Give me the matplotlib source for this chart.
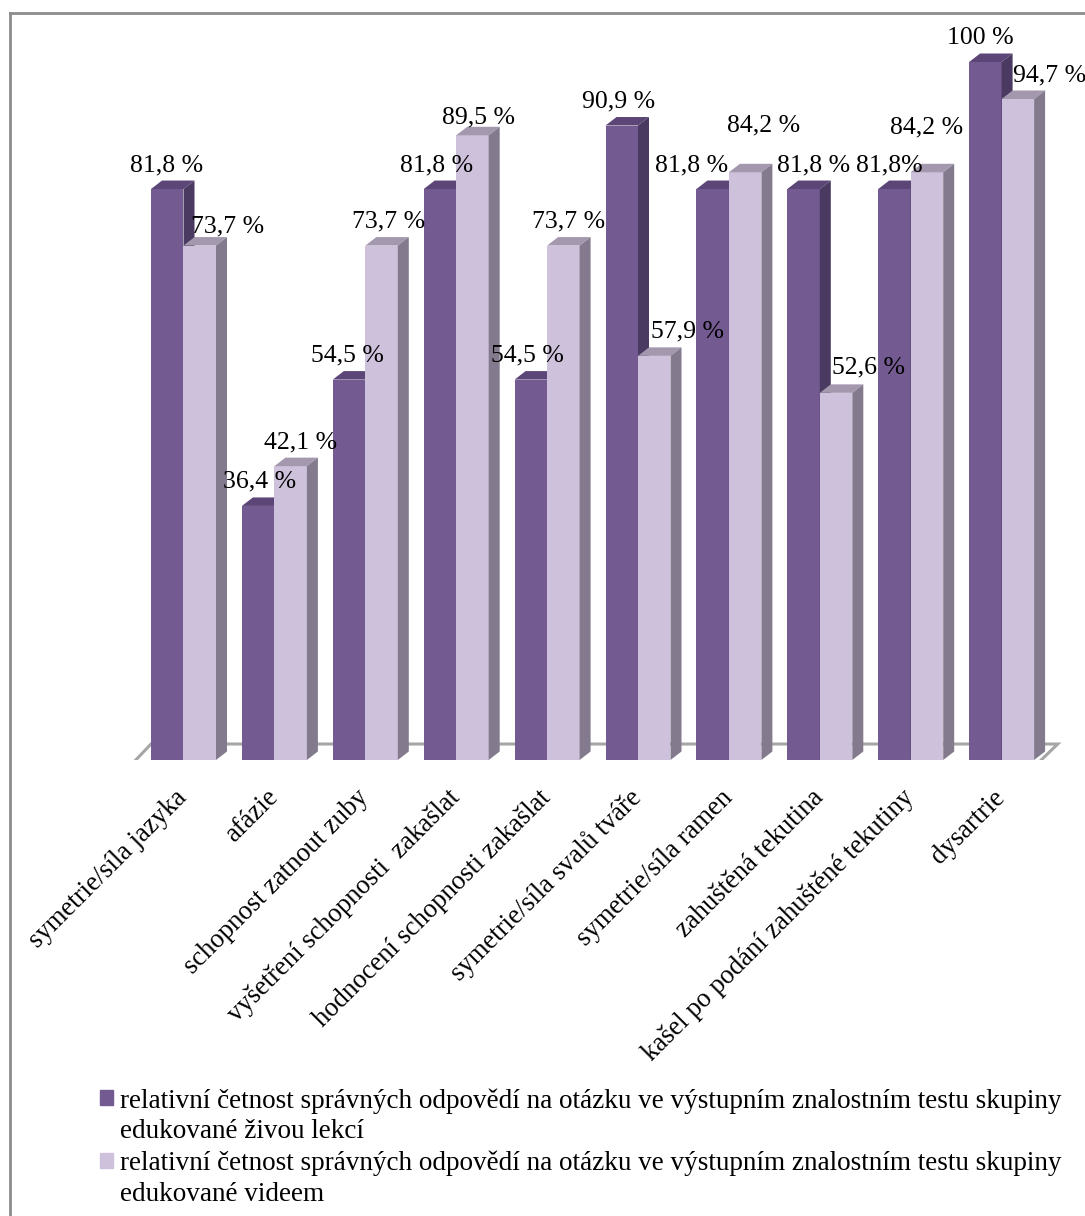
import numpy as np
import matplotlib
matplotlib.use('Agg')
import matplotlib.pyplot as plt
from matplotlib.patches import Polygon, Patch
from matplotlib.lines import Line2D

plt.rcParams['font.family'] = ['Liberation Serif', 'DejaVu Serif']

categories = ['symetrie/síla jazyka', 'afázie', 'schopnost zatnout zuby',
              'vyšetření schopnosti  zakašlat', 'hodnocení schopnosti zakašlat',
              'symetrie/síla svalů tváře', 'symetrie/síla ramen', 'zahuštěná tekutina',
              'kašel po podání zahuštěné tekutiny', 'dysartrie']
live = [81.8, 36.4, 54.5, 81.8, 54.5, 90.9, 81.8, 81.8, 81.8, 100]
video = [73.7, 42.1, 73.7, 89.5, 73.7, 57.9, 84.2, 52.6, 84.2, 94.7]
legend_first = 'relativní četnost správných odpovědí na otázku ve výstupním znalostním testu skupiny'
legend_second = ['edukované živou lekcí', 'edukované videem']

# label nudges in pixels (Excel moved some labels around)
live_nudge = [(-1, 0), (1, 0), (-2, 0), (-3, 0), (-3, 0), (-3, 0), (-21, 0), (10, 0), (-5, 0), (-5, 0)]
video_nudge = [(28, -5), (10, 0), (7, 0), (6, -6), (5, 0), (33, 0), (18, 23), (32, 1), (0, 21), (32, 0)]
live_nospace = [8]

dark = ('#735a91', '#5b4677', '#4a3960')
light = ('#cec1dc', '#a498ae', '#837b8d')

W, H = 1085, 1216
fig = plt.figure(figsize=(W / 100, H / 100), dpi=100)
ax = fig.add_axes([0, (H - 760) / H, 1, 760 / H])
pxx = 90.9   # px per category
pxy = 6.98   # px per percent
ax.set_xlim(-183.5 / pxx, (W - 183.5) / pxx)
ax.set_ylim(0, 760 / pxy)

w = 32.5 / pxx
dx, dy = 11 / pxx, 8.5 / pxy
x = np.arange(len(categories))

# floor
fl, fr = -w - 0.23, len(categories) - 1 + w + 0.01
ff, fb = -0.86, 2.29
floor = Polygon([(fl, ff), (fr, ff), (fr + 0.25, fb), (fl + 0.23, fb)], closed=True,
                facecolor='white', edgecolor='#a6a6a6', lw=2.2, zorder=1)
ax.add_patch(floor)


def bars3d(x0, vals, cols, z):
    front, top, side = cols
    ax.bar(x0, vals, w, align='edge', color=front, edgecolor='none', zorder=z)
    for xi, h in zip(x0, vals):
        ax.add_patch(Polygon([(xi, h), (xi + w, h), (xi + w + dx, h + dy), (xi + dx, h + dy)],
                             closed=True, facecolor=top, edgecolor='none', zorder=z))
        ax.add_patch(Polygon([(xi + w, 0), (xi + w + dx, dy), (xi + w + dx, h + dy), (xi + w, h)],
                             closed=True, facecolor=side, edgecolor='none', zorder=z))


bars3d(x - w, live, dark, 2)
bars3d(x, video, light, 3)


def fmt(v, space=True):
    s = ('%d' % v) if v == int(v) else ('%.1f' % v).replace('.', ',')
    return s + (' %' if space else '%')


for i in range(len(categories)):
    ax.annotate(fmt(live[i], i not in live_nospace), xy=(x[i] - w / 2, live[i]),
                xytext=(live_nudge[i][0], 24 + live_nudge[i][1]), textcoords='offset pixels',
                ha='center', va='center', fontsize=18.5, zorder=5)
    ax.annotate(fmt(video[i]), xy=(x[i] + w / 2, video[i]),
                xytext=(video_nudge[i][0], 24 + video_nudge[i][1]), textcoords='offset pixels',
                ha='center', va='center', fontsize=18.5, zorder=5)

ax.set_xticks(x - 0.1)
ax.set_xticklabels(categories, rotation=45, ha='right', rotation_mode='anchor', fontsize=19.2)
ax.tick_params(axis='x', length=0, pad=18)
ax.set_yticks([])
for s in ax.spines.values():
    s.set_visible(False)

handles = [Patch(color=dark[0]), Patch(facecolor='none', edgecolor='none'),
           Patch(color=light[0]), Patch(facecolor='none', edgecolor='none')]
labels = [legend_first, legend_second[0], legend_first, legend_second[1]]
fig.legend(handles, labels, loc='upper left', bbox_to_anchor=(100 / W, 1 - 1088 / H),
           frameon=False, fontsize=19.5, handlelength=0.48, handleheight=0.48,
           handletextpad=0.24, labelspacing=0.22, borderpad=0, borderaxespad=0)

# outer frame (only top and left edge visible)
fig.add_artist(Line2D([10 / W, 10 / W], [0, 1 - 13 / H], color='#8c8c8c', lw=2))
fig.add_artist(Line2D([10 / W, 1], [1 - 13 / H, 1 - 13 / H], color='#8c8c8c', lw=2))

fig.savefig('out.png', dpi=100)
